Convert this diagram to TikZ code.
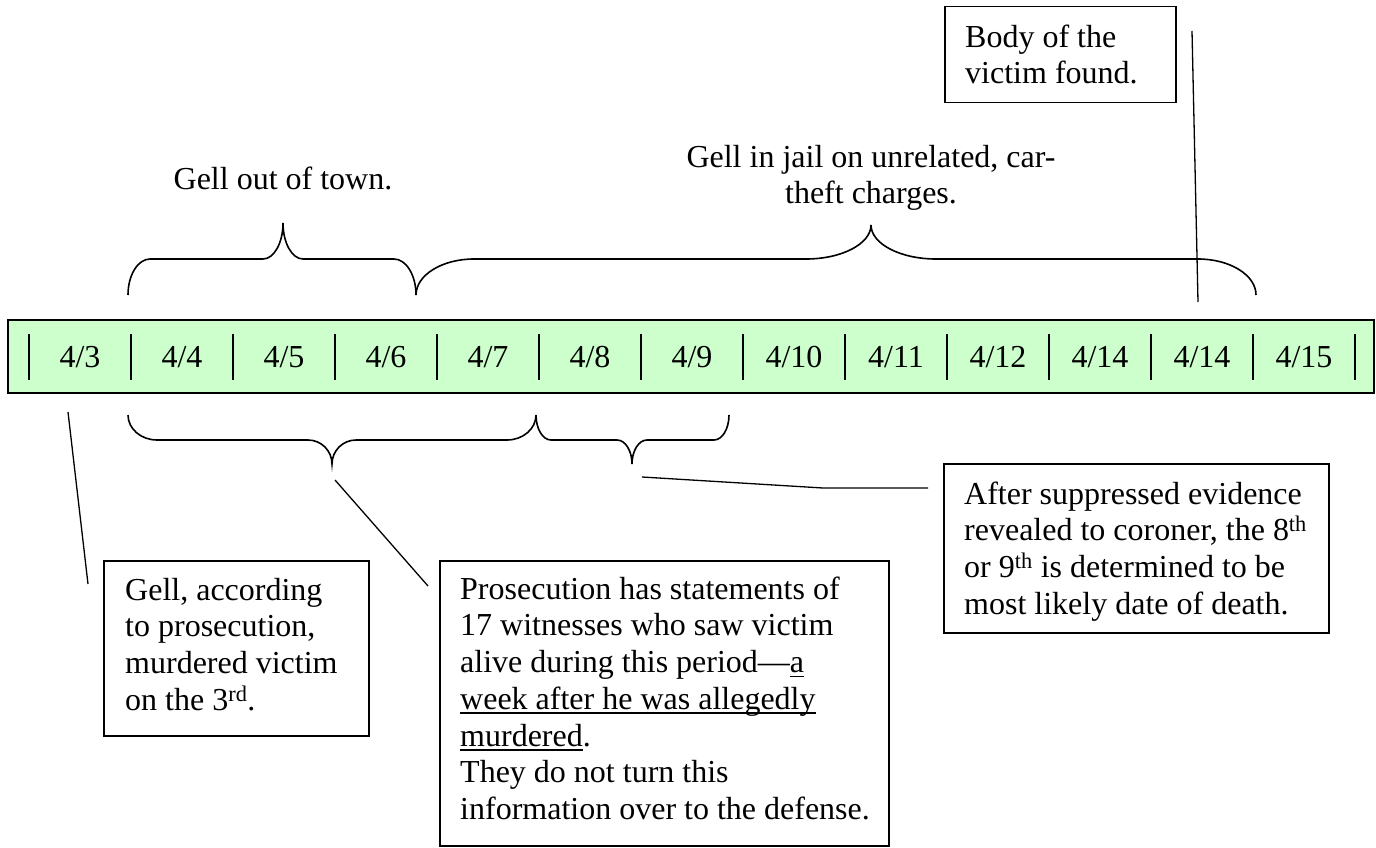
\documentclass[tikz,border=0pt]{standalone}
\usepackage{fontspec}
\setmainfont{Liberation Serif}
\definecolor{barfill}{HTML}{CCFFCC}
\newcommand{\myul}[1]{\setbox0\hbox{#1}\rlap{\rule[-4.5pt]{\wd0}{1.4pt}}\box0}
\newcommand{\hbrace}[8]{%
  \draw[brc] (#1,#4) .. controls (#1,{#5+0.448*(#4-#5)}) and ({#1+0.448*#7},#5) .. ({#1+#7},#5)
    -- ({#3-#8},#5) .. controls ({#3-0.448*#8},#5) and (#3,{#6+0.552*(#5-#6)}) .. (#3,#6)
    .. controls (#3,{#6+0.552*(#5-#6)}) and ({#3+0.448*#8},#5) .. ({#3+#8},#5)
    -- ({#2-#7},#5) .. controls ({#2-0.448*#7},#5) and (#2,{#5+0.448*(#4-#5)}) .. (#2,#4);}
\begin{document}
\begin{tikzpicture}[x=1pt,y=-1pt,
  txt/.style={font=\fontsize{32}{36.7}\selectfont, inner sep=0pt, align=left, anchor=north west},
  datelbl/.style={font=\fontsize{32}{36.7}\selectfont, inner sep=0pt, anchor=base},
  box/.style={draw, line width=1.5pt, inner sep=0pt, anchor=north west},
  lead/.style={line width=1.3pt},
  brc/.style={line width=1.6pt},
  sepline/.style={line width=1.5pt}]
\useasboundingbox (0,0) rectangle (1376,848);
% timeline bar
\node[box, fill=barfill, minimum width=1366pt, minimum height=73pt] (bar) at (7,319) {};
\foreach \k in {0,...,13} {\draw[sepline] ({29+102*\k},334) -- ({29+102*\k},380);}
\foreach \lbl [count=\i from 0] in {4/3,4/4,4/5,4/6,4/7,4/8,4/9,4/10,4/11,4/12,4/14,4/14,4/15}
  {\node[datelbl] (d\i) at ({29+102*(\i+0.5)},367) {\lbl};}
% braces above
\hbrace{128}{416}{283}{295}{259}{223}{22}{20}
\hbrace{416}{1256}{871}{295}{259}{225}{58}{65}
\node[datelbl] (out) at (283,189) {Gell out of town.};
\node[txt, align=center, anchor=north] (jail) at (871,143) {\rule{0pt}{24pt}Gell in jail on unrelated, car-\\theft charges.};
% braces below
\hbrace{128}{536}{332}{415}{440}{464}{29}{24}
\hbrace{536}{729}{632}{415}{440}{464}{15}{15}
% boxes
\node[box, minimum width=231pt, minimum height=96pt] (body) at (944,6) {};
\node[txt] (bodyt) at (965,23) {\rule{0pt}{24pt}Body of the\\victim found.};
\node[box, minimum width=265pt, minimum height=175pt] (b1) at (103,560) {};
\node[txt] (b1t) at (125,576) {\rule{0pt}{24pt}Gell, according\\to prosecution,\\murdered victim\\on the 3\textsuperscript{rd}.};
\node[box, minimum width=449pt, minimum height=285pt] (b2) at (439,560) {};
\node[txt] (b2t) at (460,575) {\rule{0pt}{24pt}Prosecution has statements of\\17 witnesses who saw victim\\alive during this period\textemdash\myul{a}\\\myul{week after he was allegedly}\\\myul{murdered}.\\They do not turn this\\information over to the defense.};
\node[box, minimum width=385pt, minimum height=169pt] (b3) at (943,463) {};
\node[txt] (b3t) at (964,480) {\rule{0pt}{24pt}After suppressed evidence\\revealed to coroner, the 8\textsuperscript{th}\\or 9\textsuperscript{th} is determined to be\\most likely date of death.};
% leader lines
\coordinate (l1a) at (68,412); \coordinate (l1b) at (88,584);
\coordinate (l2a) at (335,480); \coordinate (l2b) at (428,586);
\coordinate (l3a) at (642,477); \coordinate (l3k) at (823,488); \coordinate (l3b) at (928,488);
\coordinate (l4a) at (1192,31); \coordinate (l4b) at (1198,302);
\draw[lead] (l1a) -- (l1b);
\draw[lead] (l2a) -- (l2b);
\draw[lead] (l3a) -- (l3k) -- (l3b);
\draw[lead] (l4a) -- (l4b);
\end{tikzpicture}
\end{document}
